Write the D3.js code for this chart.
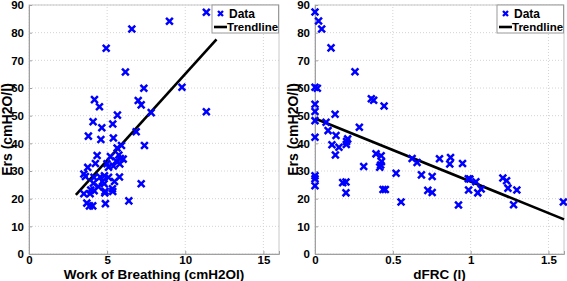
<!DOCTYPE html>
<html>
<head>
<meta charset="utf-8">
<script src="https://cdn.jsdelivr.net/npm/d3@7"></script>
<style>
  body { margin: 0; background: #fff; }
  text { font-family: "Liberation Sans", Arial, sans-serif; font-weight: bold; }
</style>
</head>
<body>
<div id="chart"></div>
<script>
// Work of Breathing (cmH2OI) vs Ers
var wobPoints = [
  [11.35, 87.4], [8.99, 84.1], [6.58, 81.3], [4.94, 74.4], [6.17, 65.8], [9.79, 60.3],
  [7.35, 59.9], [4.19, 55.8], [6.99, 55.5], [7.18, 53.9], [4.51, 53.2], [7.82, 51.1],
  [11.35, 51.4], [5.66, 50.2], [4.10, 47.8], [5.36, 47.0], [4.66, 45.6], [6.86, 44.2],
  [3.80, 42.6], [4.60, 41.4], [5.40, 41.9], [7.39, 39.2], [5.92, 39.2], [5.64, 38.3],
  [4.36, 35.6], [5.21, 35.2], [5.75, 35.8], [5.85, 34.5], [6.03, 34.3], [5.58, 33.6],
  [4.25, 32.7], [5.81, 32.5], [4.99, 32.6], [3.76, 31.3], [5.09, 31.4], [5.40, 31.8],
  [3.51, 28.9], [3.61, 28.0], [4.16, 27.7], [4.55, 27.8], [4.83, 28.3], [5.09, 27.7],
  [5.79, 27.8], [4.70, 26.2], [5.47, 26.2], [4.12, 25.6], [4.81, 25.4], [7.18, 25.4],
  [4.44, 24.3], [5.36, 22.6], [4.87, 22.7], [3.95, 23.1], [3.51, 21.8], [3.91, 21.8],
  [4.85, 22.1], [5.34, 23.6], [4.17, 22.9], [6.39, 19.2], [3.70, 18.4], [4.89, 18.2],
  [3.87, 17.4], [4.08, 17.4]
];
var wobTrend = [[3.0, 21.4], [12.0, 77.6]];

// dFRC (l) vs Ers
var dfrcPoints = [
  [0, 87.5], [0.023, 84.2], [0.043, 81.3], [0.103, 74.5], [0.257, 65.9], [0, 60.3],
  [0.015, 59.9], [0.362, 56.1], [0.377, 55.6], [0.444, 53.5], [0, 54.1], [0, 51.5],
  [0.129, 50.5], [0, 48.2], [0.071, 47.6], [0.084, 44.6], [0.285, 45.8], [0, 42.2],
  [0.135, 42.8], [0.21, 41.6], [0.203, 40.7], [0.109, 39.5], [0.154, 38.6], [0.201, 39.6],
  [0.131, 35.8], [0.392, 36.2], [0.425, 35.5], [0.427, 33.4], [0.422, 32.2], [0.416, 31.4],
  [0.313, 31.6], [0, 28.3], [0, 27.2], [0, 24.7], [0.178, 25.8], [0.199, 26.0],
  [0.199, 22.1], [0.437, 23.3], [0.452, 23.3], [0.521, 29.2], [0.553, 18.8], [0.624, 34.5],
  [0.656, 33.1], [0.684, 28.6], [0.753, 28.0], [0.725, 23.0], [0.753, 22.2], [0.80, 34.4],
  [0.871, 34.9], [0.866, 32.5], [0.948, 32.7], [0.922, 17.7], [0.985, 27.2], [0.995, 27.1],
  [1.034, 26.1], [0.987, 23.1], [1.046, 22.1], [1.068, 23.5], [1.207, 27.5], [1.231, 26.5],
  [1.240, 23.8], [1.297, 23.1], [1.276, 17.8], [1.596, 18.8]
];
var dfrcTrend = [[0, 49.0], [1.6, 12.5]];

var ersTicks = [0, 10, 20, 30, 40, 50, 60, 70, 80, 90];
var wobTicks = [0, 5, 10, 15];
var dfrcTicks = [0, 0.5, 1, 1.5];
var legendLabels = ["Data", "Trendline"];

var width = 567, height = 281;
var svg = d3.select("#chart").append("svg")
    .attr("width", width)
    .attr("height", height);

var yTop = 5, yBottom = 254;

function drawPanel(opt) {
  var g = svg.append("g");

  var xScale = d3.scaleLinear().domain(opt.xDomain).range([opt.left, opt.right]);
  var yScale = d3.scaleLinear().domain([0, 90]).range([yBottom, yTop]);

  // dotted grid
  g.selectAll(".vgrid").data(opt.xTicks).enter().append("line")
    .attr("x1", function(d) { return xScale(d); })
    .attr("x2", function(d) { return xScale(d); })
    .attr("y1", yBottom).attr("y2", yTop)
    .style("stroke", "#d4d4d4").style("stroke-dasharray", "1,2");
  g.selectAll(".hgrid").data(ersTicks).enter().append("line")
    .attr("x1", opt.left).attr("x2", opt.right)
    .attr("y1", function(d) { return yScale(d); })
    .attr("y2", function(d) { return yScale(d); })
    .style("stroke", "#d4d4d4").style("stroke-dasharray", "1,2");

  // box
  g.append("rect")
    .attr("x", opt.left).attr("y", yTop)
    .attr("width", opt.right - opt.left).attr("height", yBottom - yTop)
    .style("fill", "none").style("stroke", "#c8c8c8");

  var xAxis = d3.axisBottom(xScale).tickValues(opt.xTicks).tickSize(-3).tickPadding(6)
    .tickFormat(d3.format("~g"));
  var yAxis = d3.axisLeft(yScale).tickValues(ersTicks).tickSize(-3).tickPadding(5);

  g.append("g").attr("class", "x axis")
    .attr("transform", "translate(0," + yBottom + ")")
    .call(xAxis);
  g.append("g").attr("class", "y axis")
    .attr("transform", "translate(" + opt.left + ",0)")
    .call(yAxis);

  g.selectAll(".axis path").style("stroke", "#a0a0a0");
  g.selectAll(".axis line").style("stroke", "#a0a0a0");
  g.selectAll(".axis text")
    .style("font-size", "11.5px").style("fill", "#000")
    .style("font-family", "'Liberation Sans', Arial, sans-serif").style("font-weight", "bold");
  g.select(".x.axis").selectAll("text").attr("dy", "0.35em");

  // trendline
  var line = d3.line()
    .x(function(d) { return xScale(d[0]); })
    .y(function(d) { return yScale(d[1]); });
  g.append("path")
    .datum(opt.trend)
    .attr("d", line)
    .style("fill", "none").style("stroke", "#000").style("stroke-width", 2.6);

  // data markers
  var s = 3.4;
  g.selectAll(".marker").data(opt.points).enter().append("path")
    .attr("class", "marker")
    .attr("d", function(d) {
      var cx = xScale(d[0]), cy = yScale(d[1]);
      return "M" + (cx - s) + "," + (cy - s) + "L" + (cx + s) + "," + (cy + s) +
             "M" + (cx - s) + "," + (cy + s) + "L" + (cx + s) + "," + (cy - s);
    })
    .style("stroke", "#0000ff").style("stroke-width", 2.5).style("fill", "none");

  // axis titles
  g.append("text")
    .attr("text-anchor", "middle")
    .attr("x", (opt.left + opt.right) / 2)
    .attr("y", 279)
    .style("font-size", "13.5px")
    .text(opt.xLabel);
  g.append("text")
    .attr("text-anchor", "middle")
    .attr("transform", "rotate(-90)")
    .attr("x", -(yTop + yBottom) / 2)
    .attr("y", opt.left - 17)
    .style("font-size", "14px")
    .text("Ers (cmH2O/l)");

  // legend
  var lx = opt.right - 67, ly = yTop;
  var lg = g.append("g");
  lg.append("rect")
    .attr("x", lx).attr("y", ly).attr("width", 66.5).attr("height", 28)
    .style("fill", "#fff").style("stroke", "#999");
  lg.append("path")
    .attr("d", "M" + (lx + 6) + "," + (ly + 6) + "L" + (lx + 11) + "," + (ly + 11) +
               "M" + (lx + 6) + "," + (ly + 11) + "L" + (lx + 11) + "," + (ly + 6))
    .style("stroke", "#0000ff").style("stroke-width", 2.3);
  lg.append("line")
    .attr("x1", lx + 2).attr("x2", lx + 15)
    .attr("y1", ly + 22).attr("y2", ly + 22)
    .style("stroke", "#000").style("stroke-width", 2.6);
  lg.selectAll(".legendLabels").data(legendLabels).enter().append("text")
    .attr("x", function(d, i) { return i === 0 ? lx + 17 : lx + 15; })
    .attr("y", function(d, i) { return ly + 12.5 + i * 13; })
    .style("font-size", function(d, i) { return i === 0 ? "12px" : "11.5px"; })
    .text(function(d) { return d; });
}

drawPanel({
  left: 29, right: 279, xDomain: [0, 16], xTicks: wobTicks,
  points: wobPoints, trend: wobTrend, xLabel: "Work of Breathing (cmH2OI)"
});
drawPanel({
  left: 315, right: 564, xDomain: [0, 1.6], xTicks: dfrcTicks,
  points: dfrcPoints, trend: dfrcTrend, xLabel: "dFRC (l)"
});
</script>
</body>
</html>
